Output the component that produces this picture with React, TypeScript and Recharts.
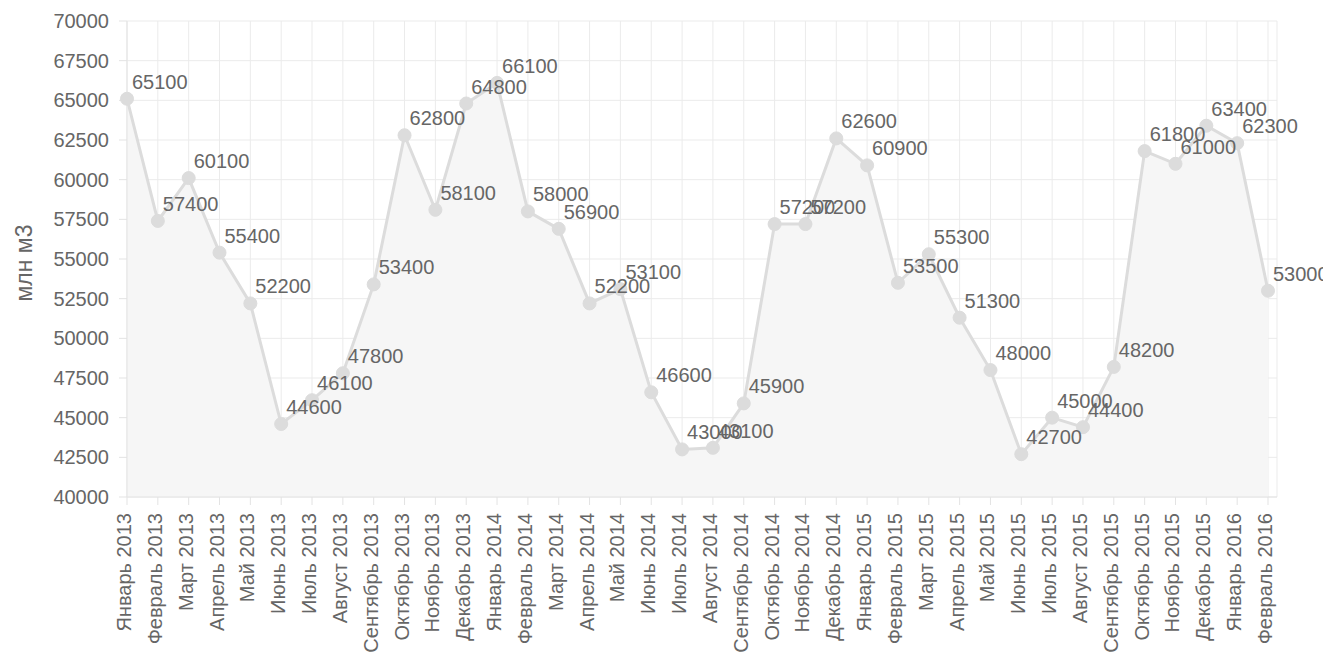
import { Area, AreaChart, CartesianGrid, XAxis, YAxis } from "recharts";

const months = [
  "Январь 2013", "Февраль 2013", "Март 2013", "Апрель 2013", "Май 2013", "Июнь 2013",
  "Июль 2013", "Август 2013", "Сентябрь 2013", "Октябрь 2013", "Ноябрь 2013", "Декабрь 2013",
  "Январь 2014", "Февраль 2014", "Март 2014", "Апрель 2014", "Май 2014", "Июнь 2014",
  "Июль 2014", "Август 2014", "Сентябрь 2014", "Октябрь 2014", "Ноябрь 2014", "Декабрь 2014",
  "Январь 2015", "Февраль 2015", "Март 2015", "Апрель 2015", "Май 2015", "Июнь 2015",
  "Июль 2015", "Август 2015", "Сентябрь 2015", "Октябрь 2015", "Ноябрь 2015", "Декабрь 2015",
  "Январь 2016", "Февраль 2016",
];

const volumes = [
  65100, 57400, 60100, 55400, 52200, 44600, 46100, 47800, 53400, 62800, 58100, 64800,
  66100, 58000, 56900, 52200, 53100, 46600, 43000, 43100, 45900, 57200, 57200, 62600,
  60900, 53500, 55300, 51300, 48000, 42700, 45000, 44400, 48200, 61800, 61000, 63400,
  62300, 53000,
];

const yTicks = [40000, 42500, 45000, 47500, 50000, 52500, 55000, 57500, 60000, 62500, 65000, 67500, 70000];

const data = months.map((month, i) => ({ month, value: volumes[i] }));

const FONT = "'Liberation Sans', Arial, sans-serif";
const TEXT = "#666";

function MonthTick({ x, y, payload }: any) {
  return (
    <g transform={`translate(${x},${y})`}>
      <text
        x={0}
        y={0}
        dy={4}
        transform="rotate(-90)"
        textAnchor="end"
        fill={TEXT}
        fontSize={20}
        fontFamily={FONT}
      >
        {payload.value}
      </text>
    </g>
  );
}

function PointLabel({ x, y, value }: any) {
  return (
    <text x={x + 5} y={y - 10} fill={TEXT} fontSize={20} fontFamily={FONT}>
      {value}
    </text>
  );
}

function AxisTitle({ viewBox }: any) {
  const cx = 16;
  const cy = viewBox.y + viewBox.height / 2 + 4;
  return (
    <text
      x={cx}
      y={cy}
      dy={8}
      transform={`rotate(-90, ${cx}, ${cy})`}
      textAnchor="middle"
      fill={TEXT}
      fontSize={23}
      fontFamily={FONT}
    >
      млн м3
    </text>
  );
}

export default function App() {
  return (
    <div style={{ width: 1323, height: 645, fontFamily: FONT }}>
      <AreaChart
        width={1323}
        height={645}
        data={data}
        margin={{ top: 13, right: 54, left: 0, bottom: 0 }}
        style={{ overflow: "visible" }}
      >
        <CartesianGrid stroke="#ebebeb" />
        <XAxis
          dataKey="month"
          interval={0}
          padding={{ left: 0, right: 9 }}
          axisLine={{ stroke: "#e3e3e3" }}
          tickLine={{ stroke: "#e3e3e3" }}
          tickSize={8}
          tickMargin={8}
          height={156}
          tick={<MonthTick />}
        />
        <YAxis
          domain={[40000, 70000]}
          ticks={yTicks}
          interval={0}
          width={119}
          axisLine={{ stroke: "#e3e3e3" }}
          tickLine={{ stroke: "#e3e3e3" }}
          tickSize={8}
          tickMargin={10}
          tick={{ fill: TEXT, fontSize: 20, fontFamily: FONT }}
          label={<AxisTitle />}
        />
        <Area
          type="linear"
          dataKey="value"
          stroke="#dcdcdc"
          strokeWidth={3}
          fill="#f6f6f6"
          fillOpacity={1}
          dot={{ r: 6.5, fill: "#dcdcdc", stroke: "#dcdcdc", strokeWidth: 1 }}
          activeDot={false}
          label={<PointLabel />}
          isAnimationActive={false}
        />
      </AreaChart>
    </div>
  );
}
